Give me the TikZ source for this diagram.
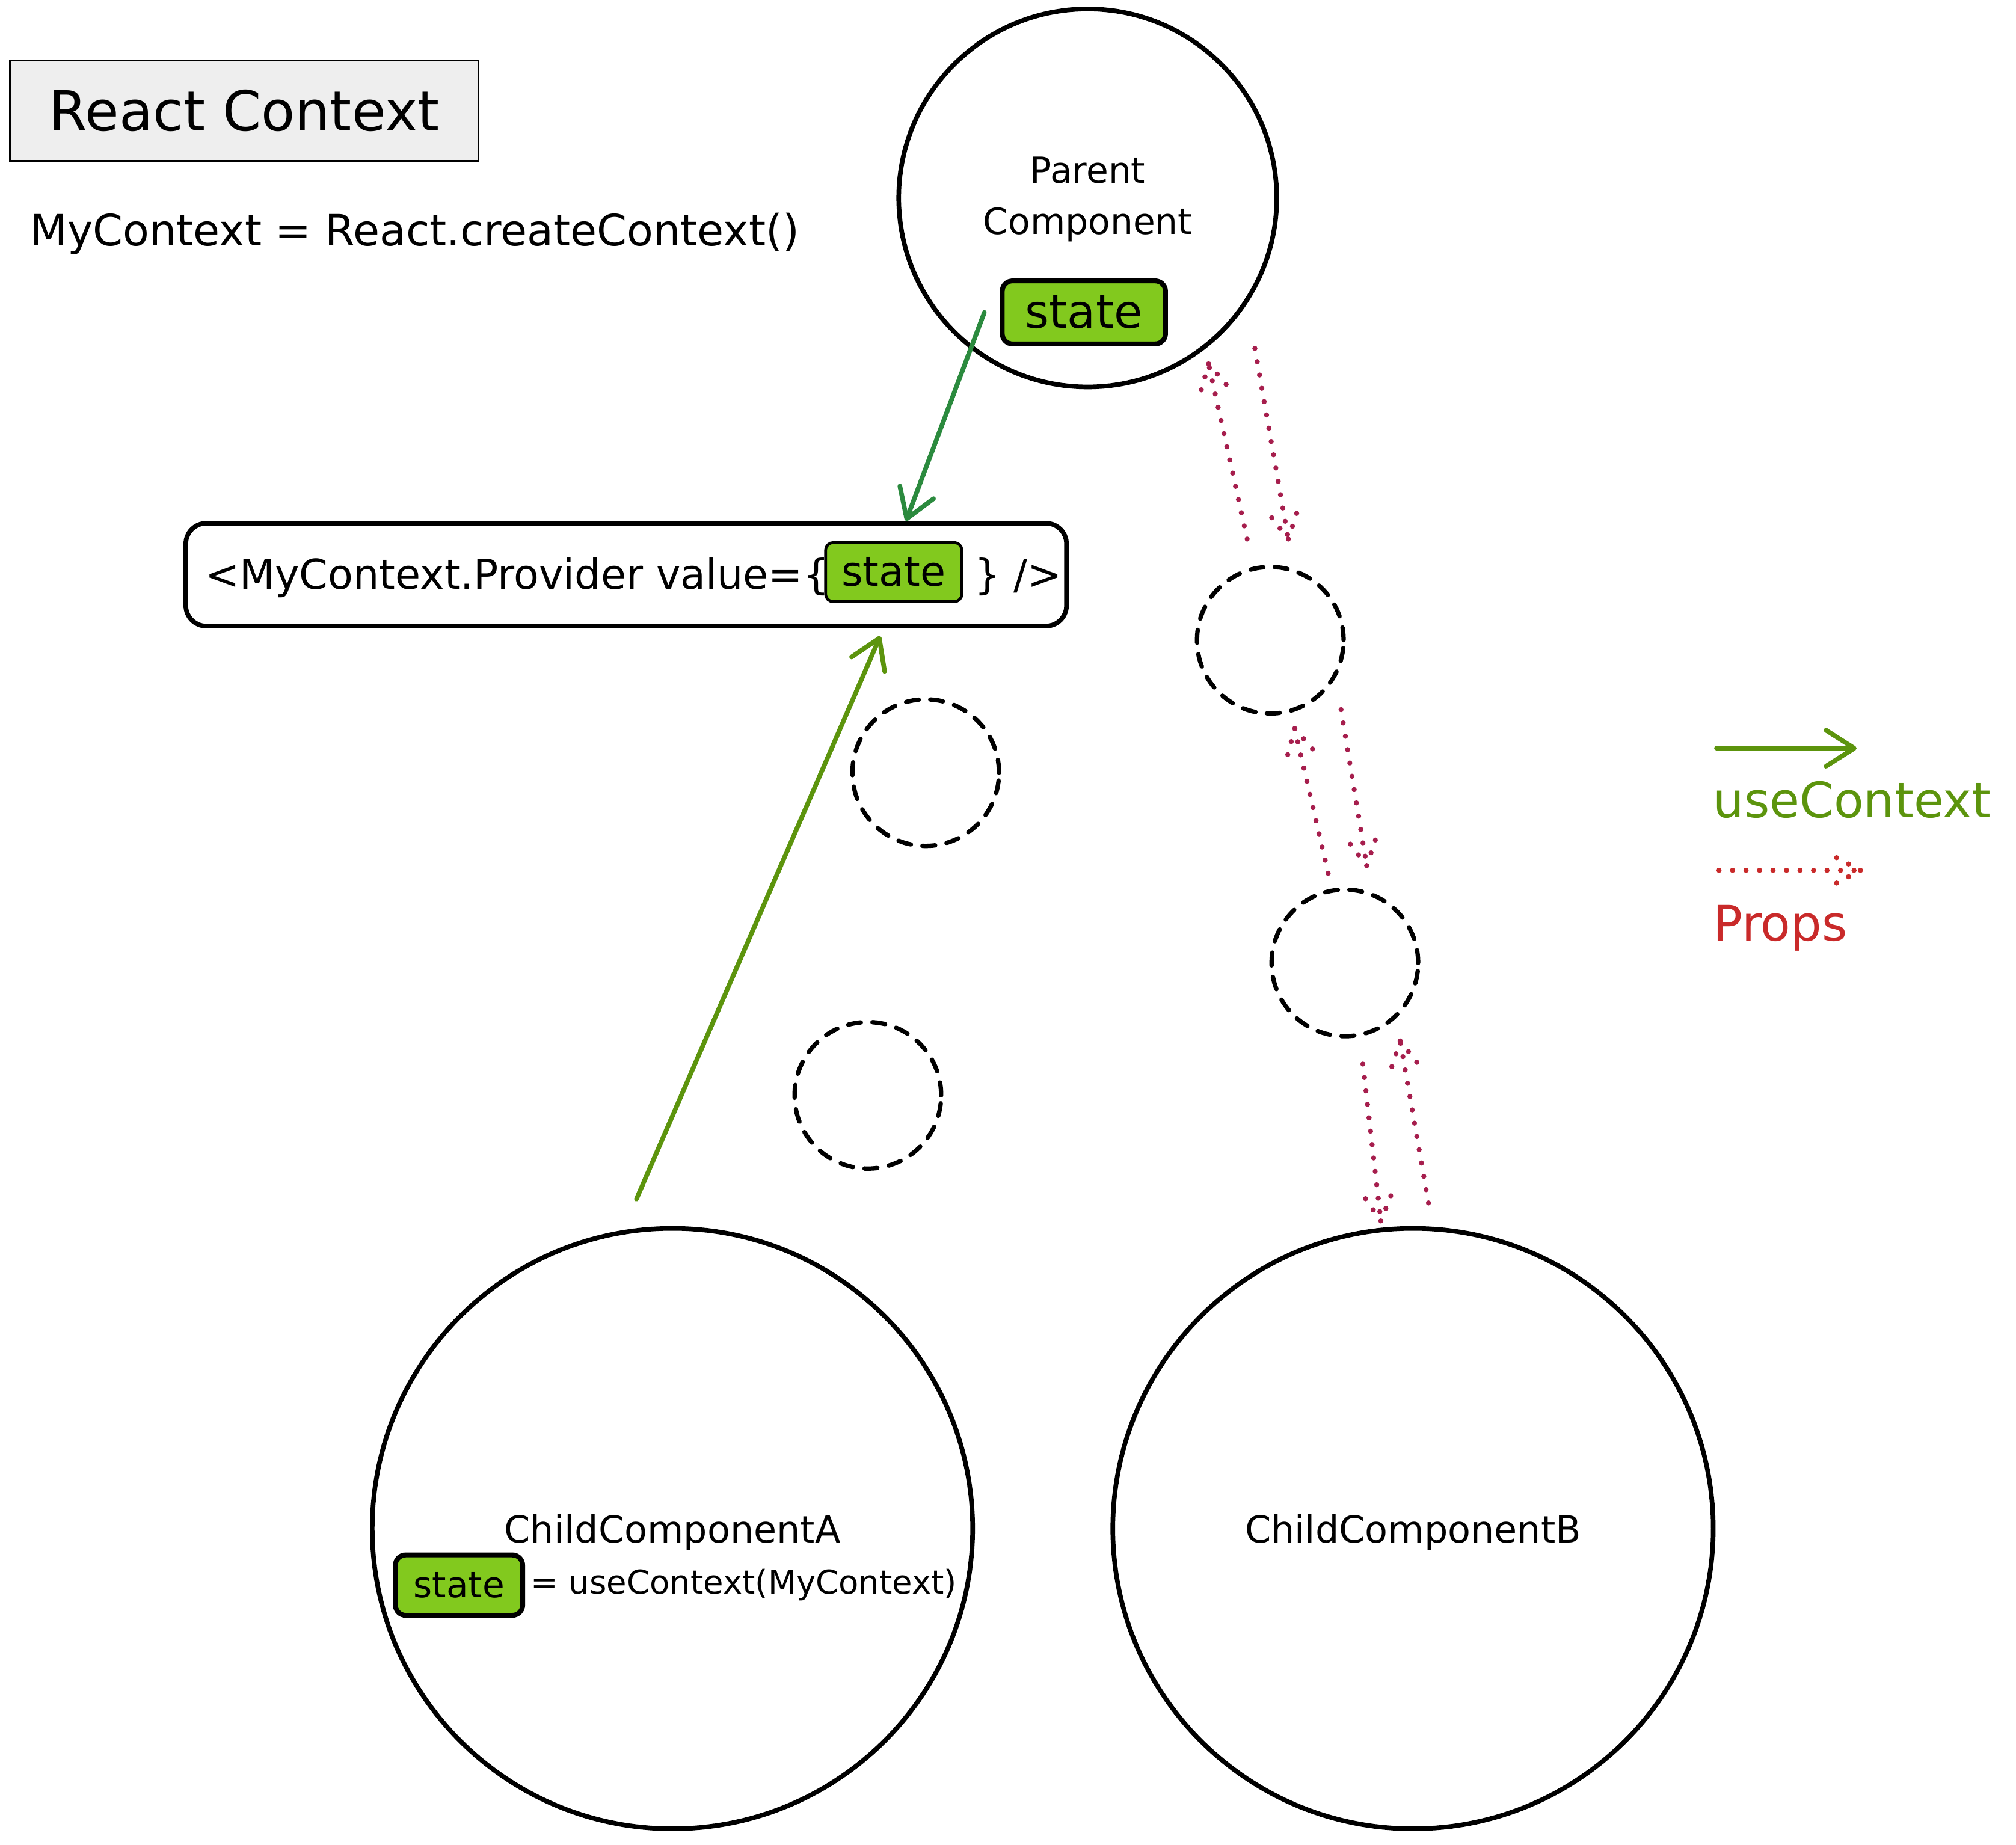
\documentclass[tikz,border=0pt]{standalone}
\usepackage{fontspec}
\setmainfont{DejaVu Sans}
\usepackage{xcolor}
\usetikzlibrary{arrows.meta, positioning, calc}

\definecolor{ctxdark}{HTML}{2B8A3E}
\definecolor{ctxlime}{HTML}{5C940D}
\definecolor{statefill}{HTML}{82C91E}
\definecolor{propspink}{HTML}{A61E4D}
\definecolor{propsred}{HTML}{C92A2A}
\definecolor{titlefill}{HTML}{EEEEEE}

\newcommand\txtsize[1]{\fontsize{#1}{#1}\selectfont}
\newcommand\propsarrow[3][]{\draw[props,#1] (#2) -- (#3) (#3) -- ($(#3)!24pt!28:(#2)$) (#3) -- ($(#3)!24pt!-28:(#2)$);}

\begin{document}
\begin{tikzpicture}[x=1pt, y=-1pt,
		comp/.style = {draw, circle, line width=3.6pt, inner sep=0pt},
		ghost/.style = {draw, circle, line width=3.4pt, inner sep=0pt, minimum size=114pt, dash pattern=on 10pt off 9pt, line cap=round},
		statebox/.style = {draw, line width=3.8pt, rounded corners=8pt, fill=statefill, inner sep=0pt},
		props/.style = {propspink, line width=4pt, line cap=round, dash pattern=on 0pt off 10.5pt},
		ctx/.style = {line width=3.6pt, line cap=round, -{Straight Barb[length=22pt, width=28pt, round]}}]
		\useasboundingbox (0,0) rectangle (1568,1435);
		% title and context
		\node[draw, line width=1.5pt, fill=titlefill, minimum width=364pt, minimum height=78pt, font=\txtsize{43}] (title) at (190,86) {React Context};
		\node[anchor=base west, font=\txtsize{33.5}] (create) at (20,191) {MyContext = React.createContext()};
		% parent
		\node[comp, minimum size=294pt] (parent) at (846,154) {};
		\node[align=center, font=\fontsize{28}{40}\selectfont] (parentLbl) at (846,155) {Parent\\Component};
		\node[statebox, minimum width=127pt, minimum height=49pt, font=\txtsize{36}] (pstate) at (843,243) {state};
		% provider
		\node[draw, line width=3.6pt, rounded corners=16pt, minimum width=685pt, minimum height=80pt] (prov) at (487,447) {};
		\node[anchor=base west, font=\txtsize{32}] (provA) at (156,458) {<MyContext.Provider value=\{};
		\node[statebox, line width=2.2pt, rounded corners=6pt, minimum width=106pt, minimum height=46pt, anchor=west, font=\txtsize{32}] (provS) at (641,445) {state};
		\node[anchor=base west, font=\txtsize{32}] (provB) at (provA.base -| provS.east) {\,\} />};
		% children
		\node[ghost] (ghostA1) at (720,601) {};
		\node[ghost] (ghostA2) at (675,852) {};
		\node[ghost] (ghostB1) at (988,498) {};
		\node[ghost] (ghostB2) at (1046,749) {};
		\node[comp, minimum size=467pt] (childA) at (523,1189) {};
		\node[comp, minimum size=467pt] (childB) at (1099,1189) {};
		\node[font=\txtsize{29}] (childALbl) at (523,1192) {ChildComponentA};
		\node[statebox, minimum width=99pt, minimum height=47pt, font=\txtsize{28}] (stateA) at (357,1233) {state};
		\node[anchor=west, font=\txtsize{25.5}] (hookA) at ([xshift=1pt]stateA.east) {= useContext(MyContext)};
		\node[font=\txtsize{29}] (childBLbl) at (1099,1192) {ChildComponentB};
		% context arrows
		\draw[ctx, ctxdark] ([xshift=-12pt]pstate.west) -- ($(prov.north west)!0.816!(prov.north east)$);
		\draw[ctx, ctxlime] ($(childA.north)+(-28,-21)$) -- ($(prov.south west)!0.787!(prov.south east)+(0,6)$);
		% props arrows
		\coordinate (p1s) at ($(ghostB1.north)+(-18,-20)$);
		\coordinate (p1e) at ($(parent.center)+(94,129)$);
		\coordinate (p2s) at ($(parent.center)+(130,117)$);
		\coordinate (p2e) at ($(ghostB1.north)+(14,-20)$);
		\coordinate (p3s) at ($(ghostB2.north)+(-13,-11)$);
		\coordinate (p3e) at ($(ghostB1.south)+(19,10)$);
		\coordinate (p4s) at ($(ghostB1.center)+(55,54)$);
		\coordinate (p4e) at ($(ghostB2.north)+(17,-17)$);
		\coordinate (p5s) at ($(ghostB2.south)+(14,20)$);
		\coordinate (p5e) at ($(childB.north)+(-25,-4)$);
		\coordinate (p6s) at ($(childB.north)+(12,-18)$);
		\coordinate (p6e) at ($(ghostB2.south)+(43,2)$);
		\propsarrow{p1s}{p1e}
		\propsarrow{p2s}{p2e}
		\propsarrow{p3s}{p3e}
		\propsarrow{p4s}{p4e}
		\propsarrow{p5s}{p5e}
		\propsarrow{p6s}{p6e}
		% legend
		\coordinate (lgCtxA) at (1335,582);
		\coordinate (lgCtxB) at (1444,582);
		\draw[ctx, ctxlime] (lgCtxA) -- (lgCtxB);
		\node[anchor=west, text=ctxlime, font=\txtsize{38}] (lgCtx) at (1329,622) {useContext};
		\coordinate (lgPropsA) at (1337,677);
		\coordinate (lgPropsB) at (1447,677);
		\propsarrow[propsred]{lgPropsA}{lgPropsB}
		\node[anchor=west, text=propsred, font=\txtsize{38}] (lgProps) at (1329,722) {Props};
	\end{tikzpicture}
\end{document}
